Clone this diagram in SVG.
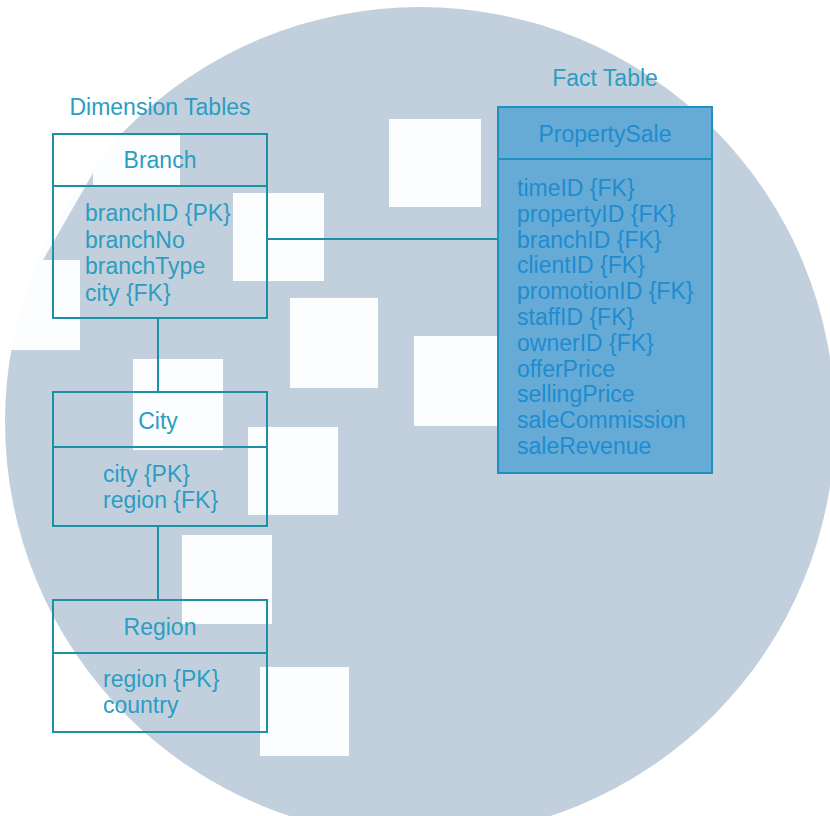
<svg xmlns="http://www.w3.org/2000/svg" width="830" height="816" viewBox="0 0 830 816">
  <style>
    .t { font-family: "Liberation Sans", Arial, Helvetica, sans-serif; font-size: 23px; fill: #2c9dc2; }
    .ft { font-family: "Liberation Sans", Arial, Helvetica, sans-serif; font-size: 23px; fill: #1f8bd0; }
    .c { text-anchor: middle; }
    .box { fill: none; stroke: #1e90a4; stroke-width: 2; }
    .fbox { fill: #66abd5; stroke: #2090c0; stroke-width: 2; }
    .ln { stroke: #1e90a4; stroke-width: 2; fill: none; }
    .fln { stroke: #2090c0; stroke-width: 2; fill: none; }
    .sq { fill: #ffffff; opacity: 0.95; }
  </style>
  <rect width="830" height="816" fill="#ffffff"/>
  <g id="background">
    <circle cx="420" cy="422" r="415" fill="#c2d0dd"/>
    <path d="M0,133 H180 V186 H93 V173 L43,260 H80 V350 H0 Z" fill="#ffffff" opacity="0.95"/>
    <rect class="sq" x="389" y="119" width="92" height="88"/>
    <rect class="sq" x="233" y="193" width="91" height="88"/>
    <rect class="sq" x="290" y="298" width="88" height="90"/>
    <rect class="sq" x="414" y="336" width="88" height="90"/>
    <rect class="sq" x="133" y="359" width="90" height="91"/>
    <rect class="sq" x="248" y="427" width="90" height="88"/>
    <rect class="sq" x="182" y="535" width="90" height="89"/>
    <rect class="sq" x="260" y="667" width="89" height="89"/>
  </g>
  <g id="labels">
    <text class="t c" x="160" y="115">Dimension Tables</text>
    <text class="t c" x="605" y="86">Fact Table</text>
  </g>
  <g id="connectors">
    <line class="ln" x1="267" y1="239" x2="498" y2="239"/>
    <line class="ln" x1="158" y1="318" x2="158" y2="392"/>
    <line class="ln" x1="158" y1="526" x2="158" y2="600"/>
  </g>
  <g id="branch">
    <rect class="box" x="53" y="134" width="214" height="184"/>
    <line class="ln" x1="53" y1="186" x2="267" y2="186"/>
    <text class="t c" x="160" y="168">Branch</text>
    <text class="t" x="85" y="221">branchID {PK}</text>
    <text class="t" x="85" y="247.5">branchNo</text>
    <text class="t" x="85" y="274">branchType</text>
    <text class="t" x="85" y="300.5">city {FK}</text>
  </g>
  <g id="city">
    <rect class="box" x="53" y="392" width="214" height="134"/>
    <line class="ln" x1="53" y1="447" x2="267" y2="447"/>
    <text class="t c" x="158" y="429">City</text>
    <text class="t" x="103" y="482">city {PK}</text>
    <text class="t" x="103" y="508">region {FK}</text>
  </g>
  <g id="region">
    <rect class="box" x="53" y="600" width="214" height="132"/>
    <line class="ln" x1="53" y1="653" x2="267" y2="653"/>
    <text class="t c" x="160" y="635">Region</text>
    <text class="t" x="103" y="687">region {PK}</text>
    <text class="t" x="103" y="713">country</text>
  </g>
  <g id="propertySale">
    <rect class="fbox" x="498" y="107" width="214" height="366"/>
    <line class="fln" x1="498" y1="159" x2="712" y2="159"/>
    <text class="ft c" x="605" y="142">PropertySale</text>
    <text class="ft" x="517" y="196">timeID {FK}</text>
    <text class="ft" x="517" y="221.8">propertyID {FK}</text>
    <text class="ft" x="517" y="247.6">branchID {FK}</text>
    <text class="ft" x="517" y="273.4">clientID {FK}</text>
    <text class="ft" x="517" y="299.2">promotionID {FK}</text>
    <text class="ft" x="517" y="325">staffID {FK}</text>
    <text class="ft" x="517" y="350.8">ownerID {FK}</text>
    <text class="ft" x="517" y="376.6">offerPrice</text>
    <text class="ft" x="517" y="402.4">sellingPrice</text>
    <text class="ft" x="517" y="428.2">saleCommission</text>
    <text class="ft" x="517" y="454">saleRevenue</text>
  </g>
</svg>
